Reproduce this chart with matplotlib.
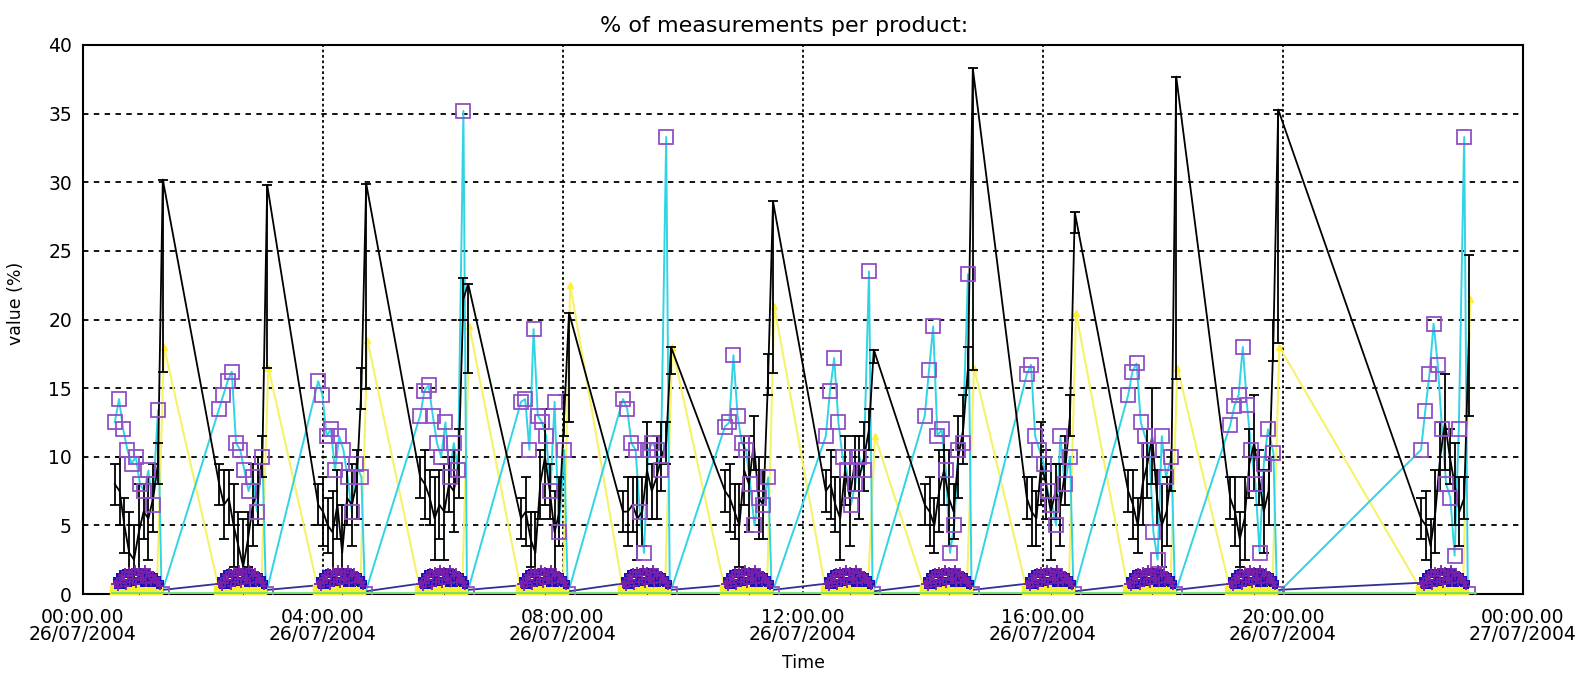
import matplotlib.pyplot as plt
import numpy as np

# start of each measurement batch (hours after 00:00 26/07/2004)
starts = [0.53, 2.27, 3.92, 5.62, 7.30, 9.00, 10.70, 12.38, 14.03, 15.73, 17.42, 19.12, 22.30]

# black: mean value with error bars, last value of each batch is the jump
t_black = [0.00, 0.08, 0.16, 0.24, 0.32, 0.40, 0.48, 0.56, 0.64, 0.72, 0.80]
black = [
    [8.0, 7.5, 5.0, 3.0, 2.5, 4.5, 6.0, 5.5, 7.0, 9.5, 30.2],
    [8.0, 6.5, 7.0, 5.0, 3.5, 2.0, 4.0, 6.5, 7.5, 10.0, 29.8],
    [6.5, 6.0, 5.0, 4.5, 6.5, 3.0, 7.0, 6.5, 8.0, 15.0, 29.9],
    [8.5, 8.0, 7.0, 5.5, 6.5, 6.0, 8.0, 7.5, 9.5, 21.5, 22.6],
    [5.5, 6.0, 4.0, 3.0, 8.0, 10.0, 7.5, 4.5, 6.0, 13.0, 20.5],
    [6.0, 6.0, 6.5, 5.5, 6.0, 9.0, 7.5, 8.5, 10.0, 11.0, 18.0],
    [7.5, 7.0, 6.0, 5.0, 9.0, 8.0, 11.0, 7.0, 6.5, 16.0, 28.6],
    [7.5, 8.0, 6.5, 5.5, 9.0, 7.0, 9.5, 8.5, 10.0, 12.0, 17.8],
    [6.5, 6.0, 5.0, 7.5, 9.0, 7.0, 6.0, 10.0, 12.0, 16.5, 38.3],
    [7.0, 6.0, 5.5, 9.5, 8.0, 6.0, 7.5, 6.5, 9.0, 13.0, 27.8],
    [7.5, 6.5, 5.0, 8.0, 9.5, 11.5, 7.0, 5.0, 6.0, 9.0, 37.7],
    [7.0, 6.0, 4.0, 5.5, 9.5, 11.0, 8.5, 6.0, 7.5, 18.5, 35.3],
    [5.5, 5.0, 3.5, 6.0, 10.0, 12.5, 10.0, 8.0, 6.0, 7.0, 19.0],
]
black_err = [1.5, 2.5, 2.0, 3.0, 2.5, 3.5, 2.0, 3.0, 2.5, 1.5]
peak_low = [14.0, 13.3, 15.0, 6.5, 8.0, 2.0, 12.5, 1.0, 22.0, 1.5, 22.0, 17.0, 6.0]
peak_up = [0, 0, 0, 0, 0, 0, 0, 0, 0, 0, 0, 0, 5.7]

# cyan with purple squares
t_cyan = [0.00, 0.07, 0.14, 0.21, 0.28, 0.35, 0.42, 0.49, 0.56, 0.63, 0.72]
cyan = [
    [12.5, 14.2, 12.0, 10.5, 9.5, 10.0, 8.0, 7.5, 9.0, 6.5, 13.4],
    [13.5, 14.5, 15.5, 16.2, 11.0, 10.5, 9.0, 7.5, 8.5, 6.0, 10.0],
    [15.5, 14.5, 11.5, 12.0, 9.0, 11.5, 10.5, 8.5, 6.0, 9.5, 8.5],
    [13.0, 14.8, 15.2, 13.0, 11.0, 10.0, 12.5, 8.5, 11.0, 9.0, 35.2],
    [14.0, 14.2, 10.5, 19.3, 13.0, 12.5, 11.5, 7.5, 14.0, 4.5, 10.5],
    [14.2, 13.5, 11.0, 10.5, 6.0, 3.0, 10.5, 11.0, 10.5, 9.0, 33.3],
    [12.2, 12.5, 17.4, 13.0, 11.0, 10.5, 8.0, 5.0, 7.0, 6.5, 8.5],
    [11.5, 14.8, 17.2, 12.5, 10.0, 9.0, 6.5, 8.0, 10.0, 9.0, 23.5],
    [13.0, 16.3, 19.5, 11.5, 12.0, 9.0, 3.0, 5.0, 10.5, 11.0, 23.3],
    [16.0, 16.7, 11.5, 10.5, 9.5, 7.5, 6.5, 5.0, 11.5, 8.0, 10.0],
    [14.5, 16.2, 16.8, 12.5, 11.5, 10.5, 4.5, 2.5, 11.5, 8.5, 10.0],
    [12.3, 13.7, 14.5, 18.0, 13.8, 10.5, 8.0, 3.0, 9.5, 12.0, 10.3],
    [10.5, 13.3, 16.0, 19.7, 16.7, 12.0, 8.0, 7.0, 2.8, 12.0, 33.3],
]

# yellow: small values inside a batch, jump at the end
t_yellow = [0.00, 0.10, 0.20, 0.30, 0.40, 0.50, 0.60, 0.70, 0.82]
yellow_low = [0.3, 0.1, 0.4, 0.2, 0.5, 0.1, 0.3, 0.2]
yellow_peak = [18.0, 16.5, 18.5, 19.5, 22.5, 18.0, 21.0, 11.5, 16.5, 20.5, 16.5, 18.0, 21.5]

# navy: low level between batches
navy_end = [0.3, 0.3, 0.2, 0.3, 0.2, 0.3, 0.3, 0.2, 0.3, 0.2, 0.3, 0.3]
navy_next = [0.7, 0.6, 0.7, 0.6, 0.7, 0.6, 0.7, 0.6, 0.7, 0.6, 0.7, 0.8]

# purple/blue cloud of points in each batch (offset in hours, value)
cloud_t = [0.00, 0.03, 0.05, 0.08, 0.10, 0.12, 0.15, 0.17, 0.19, 0.22, 0.24, 0.26,
           0.29, 0.31, 0.33, 0.36, 0.38, 0.40, 0.43, 0.45, 0.47, 0.50, 0.52, 0.54,
           0.57, 0.59, 0.61, 0.64, 0.66, 0.68, 0.71, 0.73, 0.75]
cloud_v = [0.7, 0.9, 0.5, 1.2, 0.8, 1.4, 1.0, 1.6, 0.6, 1.3, 1.7, 0.9,
           1.5, 1.1, 1.8, 0.7, 1.4, 1.7, 1.0, 1.6, 1.2, 1.8, 0.8, 1.5,
           1.3, 1.6, 0.9, 1.4, 1.0, 1.2, 0.8, 0.9, 0.6]
cloud_v2 = [1.0, 0.6, 1.3, 0.8, 1.5, 0.6, 1.6, 0.9, 1.4, 0.7, 1.1, 1.6,
            0.8, 1.7, 1.0, 1.5, 0.9, 1.2, 1.7, 0.7, 1.4, 1.0, 1.6, 1.1,
            0.7, 1.2, 1.4, 0.8, 1.3, 0.7, 1.1, 0.6, 0.8]

xtick_hours = [0, 4, 8, 12, 16, 20, 24]
xtick_labels = ["00:00.00\n26/07/2004", "04:00.00\n26/07/2004", "08:00.00\n26/07/2004",
                "12:00.00\n26/07/2004", "16:00.00\n26/07/2004", "20:00.00\n26/07/2004",
                "00:00.00\n27/07/2004"]

# build the series
bx, by, be_lo, be_up = [], [], [], []
cx, cy = [], []
yx, yy = [], []
ylx, yly = [], []
nx, ny = [], []
px, py, px2, py2 = [], [], [], []
for k, s in enumerate(starts):
    for j in range(len(t_black)):
        bx.append(s + t_black[j])
        by.append(black[k][j])
        if j < len(black_err):
            be_lo.append(black_err[j])
            be_up.append(black_err[j])
        else:
            be_lo.append(peak_low[k])
            be_up.append(peak_up[k])
    for j in range(len(t_cyan)):
        cx.append(s + t_cyan[j])
        cy.append(cyan[k][j])
    cx.append(s + 0.78)
    cy.append(0.0)
    for j in range(len(yellow_low)):
        yx.append(s + t_yellow[j])
        yy.append(yellow_low[j])
        ylx.append(s + t_yellow[j])
        yly.append(yellow_low[j])
    yx.append(s + t_yellow[-1])
    yy.append(yellow_peak[k])
    for j in range(len(cloud_t)):
        px.append(s + cloud_t[j])
        py.append(cloud_v[j])
        px2.append(s + cloud_t[j] + 0.012)
        py2.append(cloud_v2[j])
    if k < len(navy_end):
        nx += [s + 0.80, s + 0.80, starts[k + 1] - 0.1, starts[k + 1]]
        ny += [navy_end[k], navy_end[k], navy_next[k], navy_next[k]]

fig = plt.figure(figsize=(15.94, 6.76), dpi=100)
ax = fig.add_axes([83 / 1594, 1 - 594 / 676, 1440 / 1594, 549 / 676])

for v in [5, 10, 15, 20, 25, 30, 35]:
    ax.axhline(v, color="black", lw=1.3, ls=(0, (3, 3)), zorder=1)
for h in [4, 8, 12, 16, 20]:
    ax.axvline(h, color="black", lw=1.3, ls=(0, (1.5, 1.5)), zorder=1)

ax.plot(yx, yy, color="#f6f268", lw=1.5, zorder=2)
ax.plot(yx, yy, ls="none", marker="^", ms=5, color="#ffee33", zorder=2)
ax.plot([starts[0] - 0.05, starts[-1] + 0.9], [0.05, 0.05], color="#70e070", lw=2, zorder=6)
ax.plot(cx, cy, color="#30d4e4", lw=1.4, zorder=3)
ax.plot(nx, ny, color="#303090", lw=1.3, zorder=3)
ax.errorbar(bx, by, yerr=[be_lo, be_up], color="black", lw=1.3, elinewidth=1.3,
            capsize=3.5, capthick=1.3, zorder=4)
ax.plot(cx, cy, ls="none", marker="s", ms=9.5, mfc="none", mec="#9050c8", mew=1.3, zorder=5)
ax.plot(ylx, yly, ls="none", marker="s", ms=7, color="#f8ee30", zorder=5.5)
ax.scatter(px2, py2, marker="s", s=16, color="#1414b8", lw=0, zorder=6)
ax.scatter(px, py, marker="+", s=34, color="#7a20a8", lw=1.3, zorder=6.5)

ax.set_xlim(0, 24)
ax.set_ylim(0, 40)
ax.set_yticks([0, 5, 10, 15, 20, 25, 30, 35, 40])
ax.set_xticks(xtick_hours)
ax.set_xticklabels(xtick_labels, fontsize=13.5, linespacing=0.9)
ax.tick_params(axis="y", length=0, labelsize=13.5, pad=8)
ax.tick_params(axis="x", length=0, pad=10)
for sp in ax.spines.values():
    sp.set_linewidth(1.5)

fig.text(784 / 1594, 1 - 26 / 676, "% of measurements per product:", fontsize=16,
         ha="center", va="center")
ax.set_xlabel("Time", fontsize=12.5, labelpad=7)
ax.set_ylabel("value (%)", fontsize=12.5)
ax.yaxis.set_label_coords(-0.04, 0.53)

fig.savefig("out.png", dpi=100)
